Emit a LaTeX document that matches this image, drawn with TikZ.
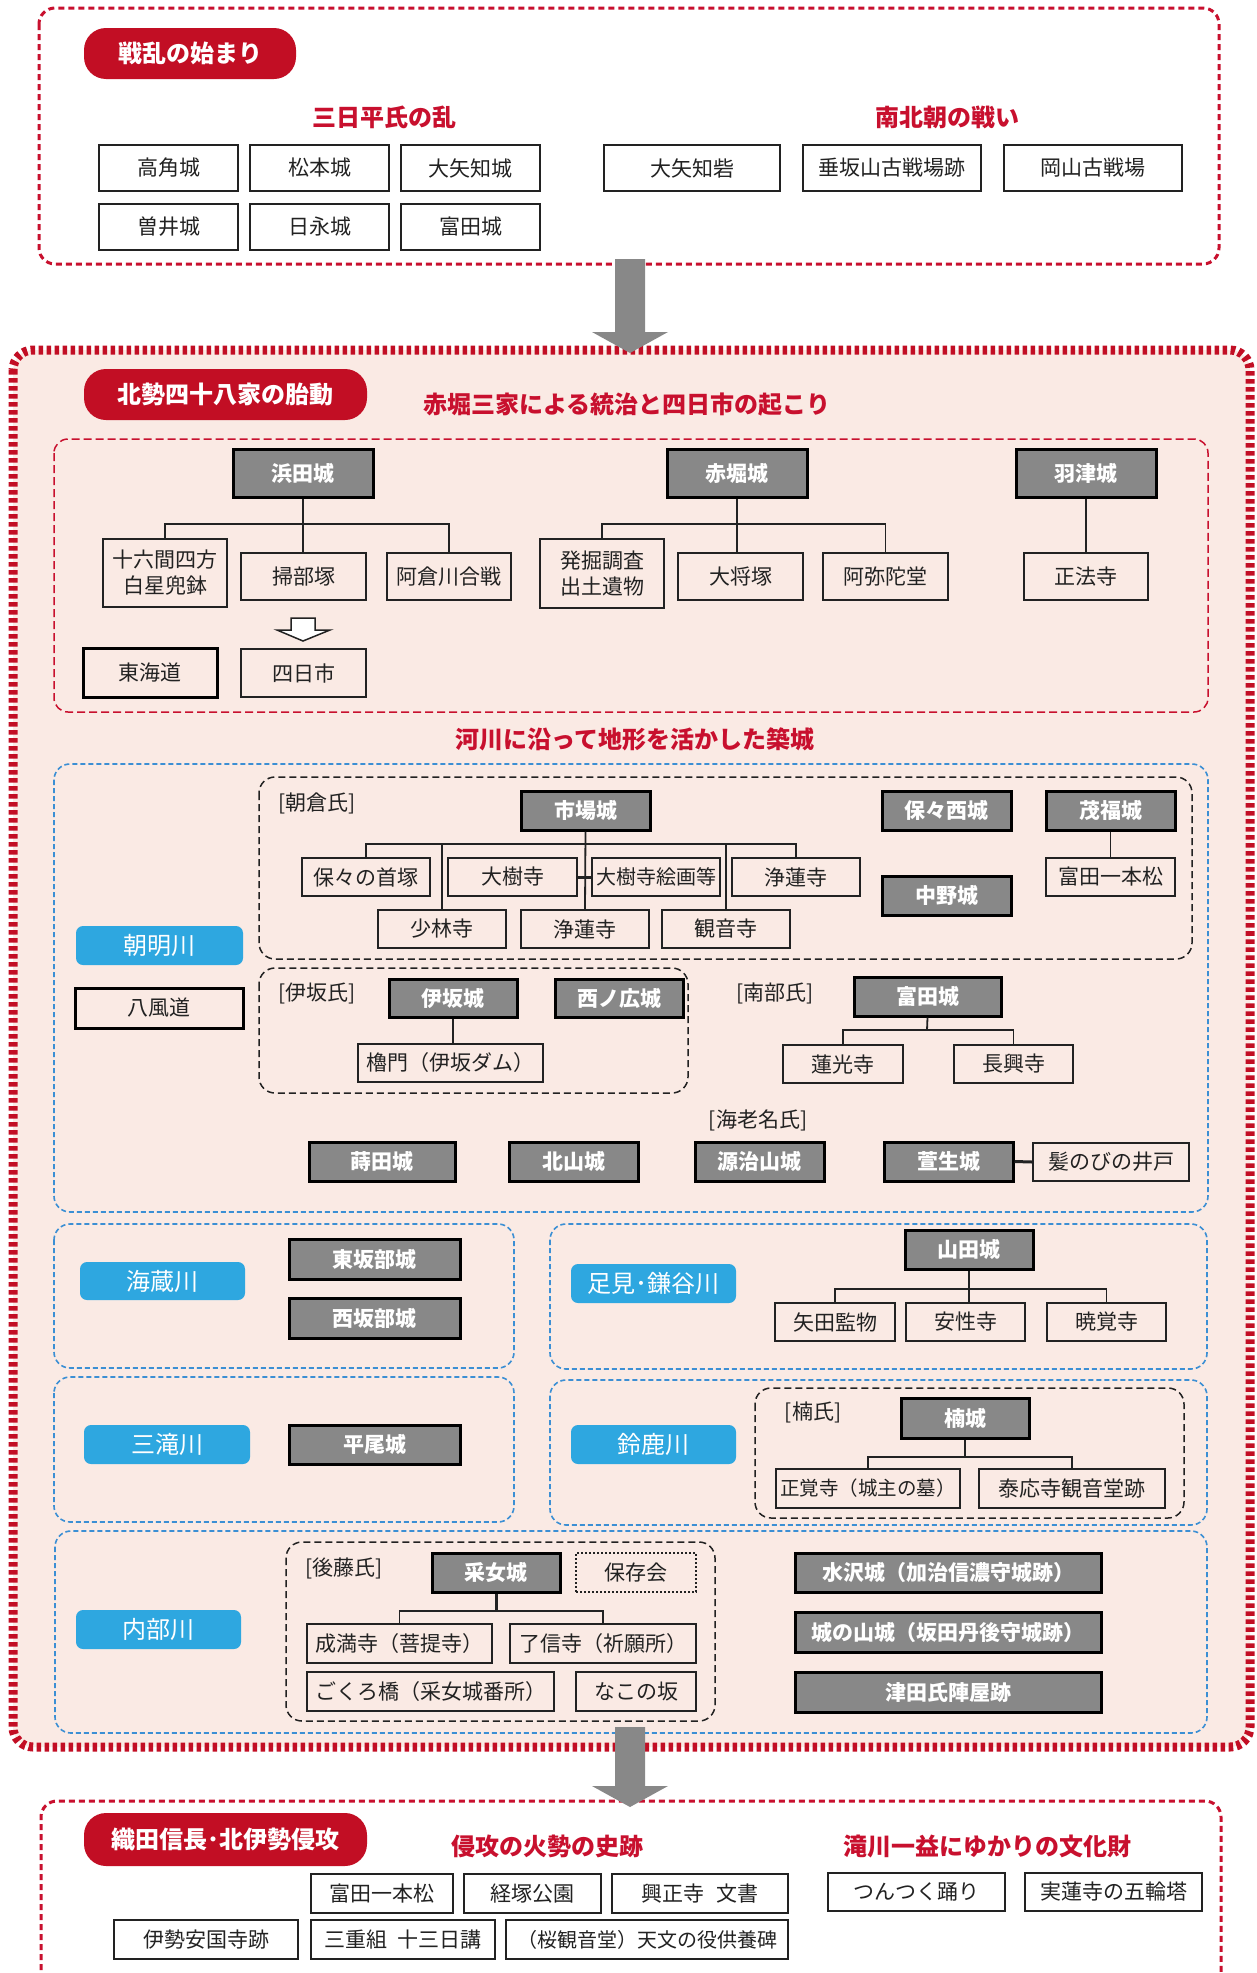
\documentclass[tikz,border=0pt]{standalone}
\usepackage{fontspec}
\setmainfont{Noto Sans CJK JP}
\usetikzlibrary{calc}
\definecolor{dred}{HTML}{C20E24}
\definecolor{tred}{HTML}{C8102E}
\definecolor{bgpink}{HTML}{FAEAE4}
\definecolor{sky}{HTML}{2EA7E0}
\definecolor{bdashc}{HTML}{3B8FD4}
\definecolor{castle}{HTML}{888888}
\definecolor{ink}{HTML}{222222}
\newcommand\bx[7]{\node[#1, minimum width={(#5)-(#3)}, minimum height={(#6)-(#4)}] (#2) at ({((#3)+(#5))/2},{((#4)+(#6))/2}) {#7};}
\newcommand\bigarrow[2]{\fill[castle] ($(#1)+(-15,0)$) -- ($(#1)+(15,0)$) -- ($(#2)+(15,-21)$) -- ($(#2)+(38,-21)$) -- (#2) -- ($(#2)+(-38,-21)$) -- ($(#2)+(-15,-21)$) -- cycle;}
\begin{document}
\begin{tikzpicture}[x=1pt,y=-1pt,
  wbox/.style={draw=ink, line width=1.8pt, inner sep=0pt, text=ink, font=\fontsize{21}{26}\selectfont},
  dbox/.style={draw=black, line width=3pt, fill=castle, inner sep=0pt, text=white, font=\fontsize{21}{26}\selectfont\bfseries},
  tbox/.style={draw=black, line width=3pt, inner sep=0pt, text=ink, font=\fontsize{21}{26}\selectfont},
  rpill/.style={fill=dred, rounded corners=22pt, inner sep=0pt, text=white, font=\fontsize{24}{28}\selectfont\bfseries},
  bpill/.style={fill=sky, rounded corners=7pt, inner sep=0pt, text=white, font=\fontsize{24}{28}\selectfont},
  rtitle/.style={text=tred, inner sep=0pt, font=\fontsize{24}{28}\selectfont\bfseries},
  clan/.style={text=ink, inner sep=0pt, font=\fontsize{21}{26}\selectfont},
  conn/.style={draw=ink, line width=1.8pt},
  rdash/.style={draw=tred, line width=3pt, dash pattern=on 6pt off 4pt, rounded corners=16pt},
  rthin/.style={draw=tred, line width=1.5pt, dash pattern=on 8pt off 4pt, rounded corners=14pt},
  bdash/.style={draw=bdashc, line width=1.6pt, dash pattern=on 5pt off 3pt, rounded corners=16pt},
  kdash/.style={draw=ink, line width=1.5pt, dash pattern=on 7pt off 4pt, rounded corners=16pt}
]
\clip (0,0) rectangle (1257,1973);
\fill[white] (0,0) rectangle (1257,1973);

% ===== top box =====
\draw[rdash] (39,8) rectangle (1219,264);
\bx{rpill}{p1}{84}{28}{296}{79}{戦乱の始まり}
\node[rtitle] (t1) at (384,117) {三日平氏の乱};
\node[rtitle] (t2) at (947,117) {南北朝の戦い};
\bx{wbox}{takatsuno}{99}{145}{238}{191}{高角城}
\bx{wbox}{matsumoto}{250}{145}{389}{191}{松本城}
\bx{wbox}{oyachi}{401}{145}{540}{191}{大矢知城}
\bx{wbox}{soi}{99}{204}{238}{250}{曽井城}
\bx{wbox}{hinaga}{250}{204}{389}{250}{日永城}
\bx{wbox}{tomida}{401}{204}{540}{250}{富田城}
\bx{wbox}{oyachitoride}{604}{145}{780}{191}{大矢知砦}
\bx{wbox}{tarusaka}{803}{145}{981}{191}{垂坂山古戦場跡}
\bx{wbox}{okayama}{1004}{145}{1182}{191}{岡山古戦場}

% ===== big middle box =====
\fill[bgpink, rounded corners=20pt] (13,350) rectangle (1250,1747);
\draw[dred, line width=9pt, dash pattern=on 4.5pt off 3.5pt, rounded corners=20pt] (13,350) rectangle (1250,1747);
\bx{rpill}{p2}{84}{369}{367}{420}{北勢四十八家の胎動}
\node[rtitle] (t3) at (627,405) {赤堀三家による統治と四日市の起こり};
\draw[rthin] (54,439) rectangle (1208,712);

\bx{dbox}{hamada}{233}{449}{373}{497}{浜田城}
\bx{wbox,align=center}{juroku}{103}{539}{227}{607}{十六間四方\\白星兜鉢}
\bx{wbox}{kamon}{241}{553}{366}{600}{掃部塚}
\bx{wbox}{akura}{387}{553}{511}{600}{阿倉川合戦}
\coordinate (hbar) at (303,524);
\draw[conn] (hamada.south) -- (hamada.south |- kamon.north);
\draw[conn] (juroku.north) |- (hbar) -| (akura.north);
\bx{tbox}{tokaido}{83}{648}{217}{697}{東海道}
\bx{wbox}{yokkaichi}{241}{649}{366}{697}{四日市}
\coordinate (ha) at (303,618);
\draw[ink, line width=1.5pt, fill=white] ($(ha)+(-12,0)$) -- ($(ha)+(12,0)$) -- ($(ha)+(12,12)$) -- ($(ha)+(27,12)$) -- ($(ha)+(0,23)$) -- ($(ha)+(-26,12)$) -- ($(ha)+(-12,12)$) -- cycle;

\bx{dbox}{akahori}{667}{449}{807}{497}{赤堀城}
\bx{wbox,align=center}{hakkutsu}{540}{539}{664}{608}{発掘調査\\出土遺物}
\bx{wbox}{taisho}{678}{553}{803}{600}{大将塚}
\bx{wbox}{amida}{823}{553}{948}{600}{阿弥陀堂}
\coordinate (abar) at (737,524);
\draw[conn] (akahori.south) -- (akahori.south |- taisho.north);
\draw[conn] (hakkutsu.north) |- (abar) -| (amida.north);
\bx{dbox}{hazu}{1016}{449}{1156}{497}{羽津城}
\bx{wbox}{shoho}{1024}{553}{1148}{600}{正法寺}
\draw[conn] (hazu.south) -- (shoho.north);

\node[rtitle] (t4) at (635,739) {河川に沿って地形を活かした築城};

% --- 朝明川 ---
\draw[bdash] (54,764) rectangle (1208,1212);
\bx{bpill}{asake}{76}{926}{243}{965}{朝明川}
\bx{tbox}{happu}{75}{988}{243}{1028}{八風道}
\draw[kdash] (259,777) rectangle (1192,959);
\node[clan] (asakura) at (317,803) {[朝倉氏]};
\bx{dbox}{ichiba}{521}{791}{650}{830}{市場城}
\bx{wbox}{hohokubi}{302}{858}{430}{896}{保々の首塚}
\bx{wbox}{daiju}{448}{858}{577}{896}{大樹寺}
\bx{wbox,font=\fontsize{20}{24}\selectfont}{daijue}{592}{858}{720}{896}{大樹寺絵画等}
\bx{wbox}{jyorenA}{732}{858}{860}{896}{浄蓮寺}
\bx{wbox}{shorin}{378}{910}{506}{948}{少林寺}
\bx{wbox}{jyorenB}{521}{910}{649}{948}{浄蓮寺}
\bx{wbox}{kannon}{662}{910}{790}{948}{観音寺}
\coordinate (ibar) at (585,844);
\draw[conn] (hohokubi.north) |- (ibar) -| (jyorenA.north);
\draw[conn] (shorin.north) -- (shorin.north |- ibar);
\draw[conn] (kannon.north) -- (kannon.north |- ibar);
\draw[conn, line width=3pt] (daiju.east) -- (daijue.west);
\draw[conn] (ichiba.south) -- (jyorenB.north);
\bx{dbox}{hobonishi}{882}{791}{1011}{830}{保々西城}
\bx{dbox}{mochibuku}{1046}{791}{1175}{830}{茂福城}
\bx{wbox}{ippon}{1046}{858}{1175}{896}{富田一本松}
\draw[conn] (mochibuku.south) -- (ippon.north);
\bx{dbox}{nakano}{882}{876}{1011}{915}{中野城}

\draw[kdash] (259,968) rectangle (688,1093);
\node[clan] (isakashi) at (317,993) {[伊坂氏]};
\bx{dbox}{isaka}{389}{979}{517}{1017}{伊坂城}
\bx{dbox}{nishino}{555}{979}{683}{1017}{西ノ広城}
\bx{wbox}{yagura}{358}{1044}{543}{1082}{櫓門（伊坂ダム）}
\draw[conn] (isaka.south) -- (isaka.south |- yagura.north);

\node[clan] (nanbu) at (775,993) {[南部氏]};
\bx{dbox}{tomidaN}{854}{977}{1001}{1016}{富田城}
\bx{wbox}{renko}{783}{1045}{903}{1083}{蓮光寺}
\bx{wbox}{chokou}{954}{1045}{1073}{1083}{長興寺}
\coordinate (nbar) at (927,1030);
\draw[conn] (tomidaN.south) -- (nbar);
\draw[conn] (renko.north) |- (nbar) -| (chokou.north);

\node[clan] (ebina) at (758,1120) {[海老名氏]};
\bx{dbox}{maita}{309}{1142}{455}{1181}{蒔田城}
\bx{dbox}{kitayama}{509}{1142}{638}{1181}{北山城}
\bx{dbox}{genji}{695}{1142}{824}{1181}{源治山城}
\bx{dbox}{kaiyo}{884}{1142}{1013}{1181}{萱生城}
\bx{wbox}{kami}{1033}{1143}{1189}{1181}{髪のびの井戸}
\draw[conn, line width=3pt] (kaiyo.east) -- (kami.west);

% --- 海蔵川 ---
\draw[bdash] (54,1224) rectangle (514,1368);
\bx{bpill}{kaizo}{80}{1262}{245}{1300}{海蔵川}
\bx{dbox}{higashi}{289}{1239}{460}{1279}{東坂部城}
\bx{dbox}{nishi}{289}{1298}{460}{1338}{西坂部城}

% --- 足見・鎌谷川 ---
\draw[bdash] (550,1224) rectangle (1207,1369);
\bx{bpill}{ashimi}{571}{1264}{736}{1303}{足見･鎌谷川}
\bx{dbox}{yamada}{905}{1230}{1033}{1269}{山田城}
\bx{wbox}{yada}{775}{1303}{895}{1341}{矢田監物}
\bx{wbox}{ansho}{906}{1303}{1025}{1341}{安性寺}
\bx{wbox}{gyokaku}{1047}{1303}{1166}{1341}{暁覚寺}
\coordinate (ybar) at (969,1289);
\draw[conn] (yamada.south) -- (yamada.south |- ansho.north);
\draw[conn] (yada.north) |- (ybar) -| (gyokaku.north);

% --- 三滝川 ---
\draw[bdash] (54,1377) rectangle (514,1522);
\bx{bpill}{mitaki}{84}{1425}{250}{1464}{三滝川}
\bx{dbox}{hirao}{289}{1425}{460}{1464}{平尾城}

% --- 鈴鹿川 ---
\draw[bdash] (550,1380) rectangle (1207,1525);
\bx{bpill}{suzuka}{571}{1425}{736}{1464}{鈴鹿川}
\draw[kdash] (755,1388) rectangle (1184,1518);
\node[clan] (kusushi) at (813,1412) {[楠氏]};
\bx{dbox}{kusu}{901}{1398}{1029}{1438}{楠城}
\bx{wbox,font=\fontsize{19.5}{24}\selectfont}{shokaku}{776}{1469}{960}{1508}{正覚寺（城主の墓）}
\bx{wbox}{taio}{979}{1469}{1165}{1508}{泰応寺観音堂跡}
\coordinate (kbar) at (965,1457);
\draw[conn] (kusu.south) -- (kbar);
\draw[conn] (shokaku.north) |- (kbar) -| (taio.north);

% --- 内部川 ---
\draw[bdash] (55,1531) rectangle (1207,1733);
\bx{bpill}{utsube}{76}{1610}{241}{1649}{内部川}
\draw[kdash] (286,1542) rectangle (715,1721);
\node[clan] (goto) at (344,1568) {[後藤氏]};
\bx{dbox}{uneme}{432}{1553}{560}{1592}{采女城}
\bx{wbox,dash pattern=on 2pt off 2pt}{hozon}{576}{1553}{696}{1592}{保存会}
\bx{wbox}{jyoman}{307}{1624}{492}{1663}{成満寺（菩提寺）}
\bx{wbox}{ryoshin}{510}{1624}{696}{1663}{了信寺（祈願所）}
\bx{wbox}{gokuro}{307}{1672}{554}{1711}{ごくろ橋（采女城番所）}
\bx{wbox}{nako}{576}{1672}{696}{1711}{なこの坂}
\coordinate (ubar) at (496,1611);
\draw[conn, line width=3pt] (uneme.south) -- (ubar);
\draw[conn] (jyoman.north) |- (ubar) -| (ryoshin.north);
\bx{dbox}{mizusawa}{795}{1553}{1101}{1592}{水沢城（加治信濃守城跡）}
\bx{dbox}{shiroyama}{795}{1612}{1101}{1652}{城の山城（坂田丹後守城跡）}
\bx{dbox}{tsuda}{795}{1672}{1101}{1712}{津田氏陣屋跡}

% ===== bottom box =====
\draw[rdash] (41,2000) -- (41,1801) -- (1221,1801) -- (1221,2000);
\bx{rpill}{p3}{84}{1813}{367}{1866}{織田信長･北伊勢侵攻}
\node[rtitle] (t5) at (547,1846) {侵攻の火勢の史跡};
\node[rtitle] (t6) at (987,1846) {滝川一益にゆかりの文化財};
\bx{wbox}{ippon2}{311}{1874}{453}{1913}{富田一本松}
\bx{wbox}{kyozuka}{464}{1874}{601}{1913}{経塚公園}
\bx{wbox}{koshoji}{612}{1874}{788}{1913}{興正寺\hspace{0.6em}文書}
\bx{wbox}{tsuntsuku}{828}{1873}{1005}{1911}{つんつく踊り}
\bx{wbox}{jitsuren}{1025}{1873}{1202}{1911}{実蓮寺の五輪塔}
\bx{wbox}{ankoku}{114}{1920}{298}{1959}{伊勢安国寺跡}
\bx{wbox}{juzo}{311}{1920}{495}{1959}{三重組\hspace{0.5em}十三日講}
\bx{wbox,font=\fontsize{20}{24}\selectfont}{sakura}{506}{1920}{788}{1959}{（桜観音堂）天文の役供養碑}

% ===== big arrows =====
\coordinate (a1s) at (630,259);
\coordinate (a1e) at (630,353);
\coordinate (a2s) at (630,1727);
\coordinate (a2e) at (630,1807);
\bigarrow{a1s}{a1e}
\bigarrow{a2s}{a2e}
\end{tikzpicture}
\end{document}
